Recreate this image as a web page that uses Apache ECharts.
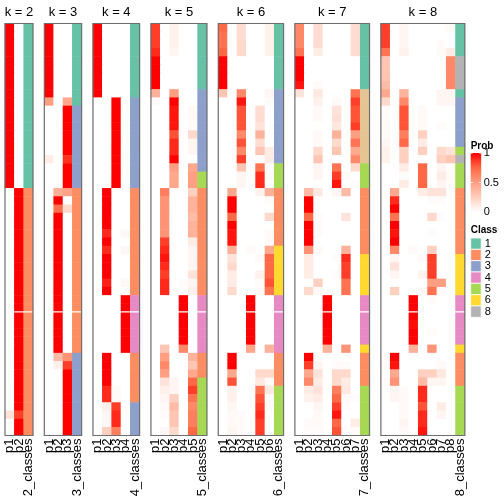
<!DOCTYPE html>
<html><head><meta charset="utf-8">
<script src="https://cdn.jsdelivr.net/npm/echarts@6/dist/echarts.min.js"></script>
<style>html,body{margin:0;padding:0;background:#fff}#c{width:504px;height:504px}</style>
</head><body><div id="c"></div>
<script>
// ---------- data (rows = samples, top to bottom) ----------
const probK2 = [
[1,0],[1,0],[1,0],[1,0],[1,0],[1,0],[1,0],[1,0],[1,0],[1,0],
[1,0],[1,0],[1,0],[1,0],[1,0],[1,0],[1,0],[1,0],[1,0],[1,0],
[0,1],[0,1],[0,1],[0,1],[0,1],[0,1],[0,1],[0,1],[0,1],[0,1],
[0,1],[0,1],[0,1],[0,1],[0,1],[0,1],[0,1],[0,1],[0,1],[0,1],
[0,1],[0,1],[0,1],[0,1],[0,1],[0,1],[0,1],[0.15,0.85],[0,1],[0,1]];
const classK2 = [1,1,1,1,1,1,1,1,1,1,1,1,1,1,1,1,1,1,1,1,
2,2,2,2,2,2,2,2,2,2,2,2,2,2,2,2,2,2,2,2,2,2,2,2,2,2,2,2,2,2];

const probK3 = [
[1,0,0],[1,0,0],[1,0,0],[1,0,0],[1,0,0],[1,0,0],[1,0,0],[1,0,0],[1,0,0],[0.5,0,0.45],
[0,0,1],[0,0,1],[0,0,1],[0,0,1],[0,0,1],[0,0,1],[0.1,0,0.88],[0,0,1],[0,0,1],[0,0,1],
[0,0.42,0.48],[0,1,0],[0,0.72,0.2],[0,1,0],[0,1,0],[0,1,0],[0,1,0],[0,1,0],[0,1,0],[0,1,0],
[0,1,0],[0,1,0],[0,1,0],[0,1,0],[0,1,0],[0,1,0],[0,1,0],[0,1,0],[0,1,0],[0,1,0],
[0,0.35,0.55],[0,0.08,0.85],[0,0,1],[0,0,1],[0,0,1],[0,0,1],[0,0,1],[0,0,1],[0,0,1],[0,0,1]];
const classK3 = [1,1,1,1,1,1,1,1,1,1,3,3,3,3,3,3,3,3,3,3,
2,2,2,2,2,2,2,2,2,2,2,2,2,2,2,2,2,2,2,2,3,3,3,3,3,3,3,3,3,3];

const probK4 = [
[1,0,0,0],[1,0,0,0],[1,0,0,0],[1,0,0,0],[1,0,0,0],[1,0,0,0],[1,0,0,0],[1,0,0,0],[1,0,0,0],[0,0,1,0],
[0,0,1,0],[0,0,1,0],[0,0,1,0],[0,0,1,0],[0,0,1,0],[0,0,1,0],[0,0,1,0],[0,0,1,0],[0,0,1,0],[0,0,1,0],
[0,1,0,0],[0,1,0,0],[0,1,0,0],[0,1,0,0],[0,1,0,0],[0,0.9,0,0.04],[0,1,0,0],[0,0.9,0,0.04],[0,1,0,0],[0,1,0,0],
[0,1,0,0],[0,0.92,0,0.04],[0,1,0,0],[0,0,0,1],[0,0,0,1],[0,0,0,1],[0,0,0,1],[0,0,0,1],[0,0,0,1],[0,0,0,1],
[0,1,0,0],[0,1,0,0],[0,1,0,0],[0,1,0,0],[0,0.9,0.03,0],[0,0.9,0.03,0],[0,0.08,0.85,0],[0,0.04,0.9,0],[0,0.04,0.9,0],[0,0.25,0.65,0]];
const classK4 = [1,1,1,1,1,1,1,1,1,3,3,3,3,3,3,3,3,3,3,3,
2,2,2,2,2,2,2,2,2,2,2,2,2,4,4,4,4,4,4,4,2,2,2,2,2,2,3,3,3,3];

const probK5 = [
[0.85,0,0.07,0,0],[0.85,0,0.07,0,0],[0.85,0,0.07,0,0],[0.9,0,0.05,0,0],[1,0,0,0,0],
[1,0,0,0,0],[1,0,0,0,0],[1,0,0,0,0],[0.4,0,0.5,0,0],[0.02,0,1,0,0],
[0,0,0.95,0,0.03],[0,0,0.95,0,0.03],[0,0,0.95,0,0.02],[0,0,0.8,0,0.2],[0,0,0.9,0,0.05],
[0,0,0.9,0,0.05],[0,0,1,0,0],[0,0,0.5,0,0.45],[0,0,0.45,0,0.5],[0,0,0.45,0,0.5],
[0,0.65,0,0,0.25],[0,0.55,0,0,0.4],[0,0.55,0,0,0.4],[0,0.55,0,0,0.35],[0,0.55,0,0,0.4],
[0,0.55,0,0,0.4],[0,0.85,0,0,0.1],[0,0.9,0,0,0.05],[0,0.95,0,0,0.05],[0,0.9,0,0,0.05],
[0,0.85,0,0,0.15],[0,0.9,0,0.02,0.05],[0,0.9,0,0,0.08],[0,0,0,1,0],[0,0,0,1,0],
[0,0,0,1,0],[0,0,0,1,0],[0,0,0,1,0],[0,0,0,1,0],[0,0.3,0,0.6,0],
[0,0.5,0,0,0.4],[0,0.6,0,0,0.3],[0,0.5,0,0,0.45],[0,0.15,0.05,0,0.75],[0,0.08,0.05,0,0.85],
[0,0.05,0.25,0,0.7],[0,0.03,0.35,0,0.6],[0,0.02,0.3,0,0.65],[0,0,0.3,0,0.65],[0,0.04,0.2,0,0.75]];
const classK5 = [1,1,1,1,1,1,1,1,3,3,3,3,3,3,3,3,3,3,5,5,
2,2,2,2,2,2,2,2,2,2,2,2,2,4,4,4,4,4,4,4,2,2,2,5,5,5,5,5,5,5];

const probK6 = [
[0.75,0,0.18,0,0,0.07],[0.7,0,0.18,0,0,0.07],[0.7,0,0.2,0,0,0.07],[0.75,0,0.2,0,0,0.07],[1,0,0,0,0,0],
[1,0,0,0,0,0],[1,0,0,0,0,0],[1,0,0,0,0,0],[0.3,0,0.6,0,0,0.05],[0,0,0.95,0,0,0.02],
[0,0,0.8,0,0.18,0],[0,0,0.8,0,0.18,0],[0,0,0.8,0,0.15,0],[0,0,0.6,0,0.4,0],[0,0,0.8,0,0.18,0],
[0,0,0.6,0,0.3,0.1],[0,0,0.85,0,0.02,0.1],[0,0,0.3,0,0.7,0.02],[0,0,0.05,0,0.9,0.02],[0,0,0.05,0,0.9,0],
[0,0.45,0,0,0.07,0.4],[0,1,0,0,0,0.02],[0,1,0,0,0,0],[0,0.75,0,0,0,0.2],[0,1,0,0,0,0],
[0,0.95,0,0,0,0.03],[0,0.95,0,0,0,0.03],[0,0.4,0,0.03,0,0.45],[0,0.15,0,0,0.03,0.75],[0,0.2,0,0,0,0.75],
[0,0.1,0,0,0.07,0.75],[0,0.1,0,0,0.02,0.8],[0,0.2,0,0,0.03,0.7],[0,0,0,1,0,0],[0,0,0,1,0,0],
[0,0,0,1,0,0],[0,0,0,1,0,0],[0,0,0,1,0,0],[0,0,0,1,0,0],[0,0,0,0.45,0,0.4],
[0,1,0,0,0,0],[0,1,0,0,0,0],[0,0.45,0,0,0.2,0.2],[0,0.8,0,0,0.12,0.03],[0,0.08,0,0,0.7,0.12],
[0,0.08,0,0,0.8,0.02],[0,0.05,0,0,0.85,0.02],[0,0.03,0.02,0,0.9,0],[0,0.03,0.02,0,0.85,0],[0,0.05,0.02,0,0.85,0]];
const classK6 = [1,1,1,1,1,1,1,1,3,3,3,3,3,3,3,3,3,5,5,5,
2,2,2,2,2,2,2,6,6,6,6,6,6,4,4,4,4,4,4,4,2,2,2,2,5,5,5,5,5,5];

const probK7 = [
[0.6,0,0.18,0,0,0,0.18],[0.6,0,0.18,0,0,0,0.18],[0.6,0,0.18,0,0,0,0.18],[0.7,0,0.1,0,0,0,0.18],[1,0,0,0,0,0,0],
[1,0,0,0,0,0,0],[1,0,0,0,0,0,0],[0.95,0,0.02,0,0,0,0],[0.15,0,0.12,0,0,0,0.7],[0,0,0.08,0,0.03,0,0.85],
[0,0,0.03,0,0.15,0,0.8],[0,0,0.03,0,0.17,0,0.8],[0,0,0,0,0.12,0,0.85],[0,0,0.03,0,0.4,0,0.5],[0,0,0.03,0,0.2,0,0.7],
[0,0,0.2,0,0.3,0,0.45],[0,0,0.3,0,0,0,0.6],[0,0,0.05,0,0.7,0,0.2],[0,0,0.05,0,0.85,0.03,0],[0,0,0,0,0.95,0,0.02],
[0,0.35,0.12,0,0.05,0.35,0],[0,1,0,0,0,0,0],[0,1,0,0,0,0,0],[0,0.75,0.02,0,0,0.15,0],[0,1,0.02,0,0,0,0],
[0,1,0.02,0,0,0,0],[0,1,0,0,0,0,0],[0,0.55,0.03,0,0,0.4,0],[0,0.1,0,0,0.02,0.9,0],[0,0.1,0,0,0,0.85,0],
[0,0.1,0,0,0.02,0.85,0],[0,0,0.25,0,0,0.7,0],[0,0.2,0.03,0,0,0.7,0],[0,0,0,1,0,0,0],[0,0,0,1,0,0,0],
[0,0,0,1,0,0,0],[0,0,0,1,0,0,0],[0,0,0,1,0,0,0],[0,0,0,1,0,0,0],[0,0,0,0.4,0,0.55,0],
[0,1,0,0,0,0,0],[0,0.85,0.05,0,0.02,0.02,0],[0,0.45,0.15,0,0.2,0.2,0],[0,0.6,0.1,0,0.2,0.1,0],[0,0.1,0.15,0,0.65,0.12,0],
[0,0.07,0.1,0,0.75,0.03,0.02],[0,0,0.05,0,0.85,0.02,0],[0,0,0.03,0,0.95,0,0],[0,0.03,0.03,0,0.75,0,0.1],[0,0.02,0.02,0,0.8,0.02,0.02]];
const classK7 = [1,1,1,1,1,1,1,1,7,7,7,7,7,7,7,7,7,5,5,5,
2,2,2,2,2,2,2,2,6,6,6,6,6,4,4,4,4,4,4,6,2,2,2,2,5,5,5,5,5,5];

const probK8 = [
[0.85,0,0.05,0,0,0,0,0.03],[0.85,0,0.05,0,0,0,0,0],[0.85,0,0.05,0,0,0,0.02,0],[0.7,0,0.07,0,0,0,0.03,0.1],[0.3,0,0,0,0,0,0,0.6],
[0.3,0,0,0,0,0,0,0.6],[0.3,0,0,0,0,0,0,0.6],[0.35,0,0,0,0,0,0,0.6],[0.45,0,0.4,0,0,0,0.05,0.05],[0.2,0,0.6,0,0,0,0.05,0.05],
[0.02,0,0.8,0,0.03,0,0,0],[0.03,0,0.8,0,0.03,0,0,0],[0.03,0,0.8,0,0.03,0,0.02,0],[0.03,0,0.65,0,0.25,0,0,0],[0.05,0,0.75,0,0.1,0,0,0],
[0.07,0,0.25,0,0.25,0,0.2,0.15],[0.07,0,0.25,0,0,0,0.25,0.3],[0,0,0.1,0,0.75,0,0.05,0.02],[0,0,0.02,0,0.75,0,0.1,0.03],[0,0,0.1,0,0.75,0,0.05,0.02],
[0,0.45,0,0,0.1,0.15,0.15,0],[0,0.9,0,0,0,0.02,0.02,0],[0,1,0,0,0,0,0,0],[0,0.7,0,0,0,0.2,0.02,0],[0,1,0,0,0,0,0,0],
[0,0.95,0,0,0,0.02,0,0],[0,1,0,0,0,0,0,0],[0,0.6,0,0.03,0,0.25,0,0],[0,0.05,0,0,0.03,0.85,0,0],[0,0.15,0,0,0,0.85,0,0],
[0,0.05,0,0,0.07,0.85,0,0],[0,0,0,0,0,0.5,0.5,0],[0,0.25,0,0,0.03,0.7,0.03,0],[0,0,0,1,0,0.02,0,0],[0,0,0,1,0,0,0,0],
[0,0,0,1,0,0,0,0],[0,0,0,0.97,0,0,0,0],[0,0,0,1,0,0.02,0,0],[0,0,0,1,0,0,0,0],[0,0,0,0.4,0,0.55,0,0],
[0.02,1,0,0,0,0,0,0],[0.02,0.95,0,0,0,0,0.03,0],[0,0.45,0,0,0.25,0.25,0.12,0],[0.02,0.55,0,0,0.35,0.05,0.05,0],[0,0.05,0.02,0,0.9,0,0,0],
[0,0.05,0.03,0,0.9,0,0,0],[0,0,0.03,0,0.8,0,0.1,0],[0,0,0.03,0,0.9,0,0.05,0],[0,0,0.05,0,0.9,0,0,0],[0,0,0.03,0,0.95,0,0,0]];
const classK8 = [1,1,1,1,8,8,8,8,1,3,3,3,3,3,3,5,8,5,5,5,
2,2,2,2,2,2,2,2,6,6,6,6,6,4,4,4,4,4,4,6,2,2,2,2,5,5,5,5,5,5];

const panelTitles = ['k = 2','k = 3','k = 4','k = 5','k = 6','k = 7','k = 8'];
const legendClasses = [1,2,3,4,5,6,8];
const probTickLabels = ['1','0.5','0'];
const probTickValues = [1,0.5,0];

// ---------- styles / layout ----------
const classColors = {1:'#66C2A5',2:'#FC8D62',3:'#8DA0CB',4:'#E78AC3',5:'#A6D854',6:'#FFD92F',7:'#E5C494',8:'#B3B3B3'};
const probColors = ['#FFFFFF','#FFCFBF','#FF9E81','#FF6846','#FF0000'];
const FONT = '"Liberation Sans", Arial, Helvetica, sans-serif';
const TOP = 23.5, HEIGHT = 412, COLW = 9.33, GAP = 11.33, LEFT0 = 5;
const SPLIT_ROW = 35;

const panels = [
  {k:2, prob:probK2, cls:classK2},
  {k:3, prob:probK3, cls:classK3},
  {k:4, prob:probK4, cls:classK4},
  {k:5, prob:probK5, cls:classK5},
  {k:6, prob:probK6, cls:classK6},
  {k:7, prob:probK7, cls:classK7},
  {k:8, prob:probK8, cls:classK8}
];
const nRows = probK2.length;
const rowCats = probK2.map((_, i) => 'S' + (i + 1));

const grids = [], xAxes = [], yAxes = [], series = [], graphics = [];
const probIdx = [], clsIdx = [];
let left = LEFT0;
panels.forEach((p, gi) => {
  const ncol = p.k + 1;
  const w = ncol * COLW;
  grids.push({left: left, top: TOP, width: w, height: HEIGHT});
  const cats = [];
  for (let j = 1; j <= p.k; j++) cats.push('p' + j);
  cats.push(p.k + '_classes');
  xAxes.push({type:'category', gridIndex:gi, data:cats, position:'bottom',
    axisLine:{show:false}, axisTick:{show:false}, splitLine:{show:false},
    axisLabel:{rotate:90, interval:0, fontSize:13, color:'#000', margin:3, fontFamily:FONT}});
  yAxes.push({type:'category', gridIndex:gi, data:rowCats, inverse:true, show:false});
  const probData = [];
  p.prob.forEach((row, r) => row.forEach((v, j) => probData.push([j, r, v])));
  probIdx.push(series.length);
  series.push({type:'heatmap', xAxisIndex:gi, yAxisIndex:gi, data:probData, progressive:0,
    emphasis:{disabled:true}, itemStyle:{borderWidth:0}});
  const clsData = p.cls.map((c, r) => [p.k, r, c]);
  clsIdx.push(series.length);
  series.push({type:'heatmap', xAxisIndex:gi, yAxisIndex:gi, data:clsData, progressive:0,
    emphasis:{disabled:true}, itemStyle:{borderWidth:0}});
  graphics.push({type:'text', x: left + w / 2, y: 12, z: 100,
    style:{text: panelTitles[gi], font: '13px ' + FONT, fill:'#000', textAlign:'center', textVerticalAlign:'middle'}});
  graphics.push({type:'rect', z: 90, shape:{x:left, y: TOP + SPLIT_ROW * HEIGHT / nRows - 0.6, width:w, height:1.2},
    style:{fill:'#fff'}});
  graphics.push({type:'rect', z: 100, shape:{x:left, y:TOP, width:w, height:HEIGHT},
    style:{fill:'none', stroke:'#6e6e6e', lineWidth:1.2}});
  left += w + GAP;
});

// ---------- legends ----------
const LX = 470.7;
graphics.push({type:'text', x: LX, y: 146, z:100,
  style:{text:'Prob', font:'bold 10px ' + FONT, fill:'#000', textAlign:'left', textVerticalAlign:'middle'}});
const barTop = 153, barH = 59, barW = 10.5;
graphics.push({type:'rect', z:100, shape:{x:LX, y:barTop, width:barW, height:barH},
  style:{fill:{type:'linear', x:0, y:0, x2:0, y2:1, colorStops:[
    {offset:0, color:probColors[4]},{offset:0.25, color:probColors[3]},{offset:0.5, color:probColors[2]},
    {offset:0.75, color:probColors[1]},{offset:1, color:probColors[0]}]}}});
probTickValues.forEach((v, i) => {
  const y = barTop + (1 - v) * barH;
  graphics.push({type:'text', x: LX + barW + 2.5, y: y, z:100,
    style:{text: probTickLabels[i], font:'11px ' + FONT, fill:'#000', textAlign:'left', textVerticalAlign:'middle'}});
  if (v > 0) {
    graphics.push({type:'line', z:101, shape:{x1:LX, y1:y, x2:LX+2, y2:y}, style:{stroke:'#fff', lineWidth:1}});
    graphics.push({type:'line', z:101, shape:{x1:LX+barW-2, y1:y, x2:LX+barW, y2:y}, style:{stroke:'#fff', lineWidth:1}});
  }
});
graphics.push({type:'text', x: LX, y: 230, z:100,
  style:{text:'Class', font:'bold 10px ' + FONT, fill:'#000', textAlign:'left', textVerticalAlign:'middle'}});
const boxTop = 238, boxH = 11.33, boxW = 10.5;
legendClasses.forEach((c, i) => {
  const y = boxTop + i * boxH;
  graphics.push({type:'rect', z:100, shape:{x:LX, y:y, width:boxW, height:boxH},
    style:{fill:classColors[c], stroke:'#fff', lineWidth:0.8}});
  graphics.push({type:'text', x: LX + boxW + 3.5, y: y + boxH / 2, z:100,
    style:{text:String(c), font:'11px ' + FONT, fill:'#000', textAlign:'left', textVerticalAlign:'middle'}});
});

const chart = echarts.init(document.getElementById('c'), null, {renderer:'canvas'});
chart.setOption({
  animation:false,
  backgroundColor:'#fff',
  grid: grids, xAxis: xAxes, yAxis: yAxes,
  visualMap:[
    {type:'continuous', min:0, max:1, dimension:2, seriesIndex:probIdx, show:false, inRange:{color:probColors}},
    {type:'piecewise', dimension:2, seriesIndex:clsIdx, show:false,
      pieces:Object.keys(classColors).map(k => ({value:Number(k), color:classColors[k]}))}
  ],
  series: series,
  graphic: graphics
});
</script>
</body></html>
